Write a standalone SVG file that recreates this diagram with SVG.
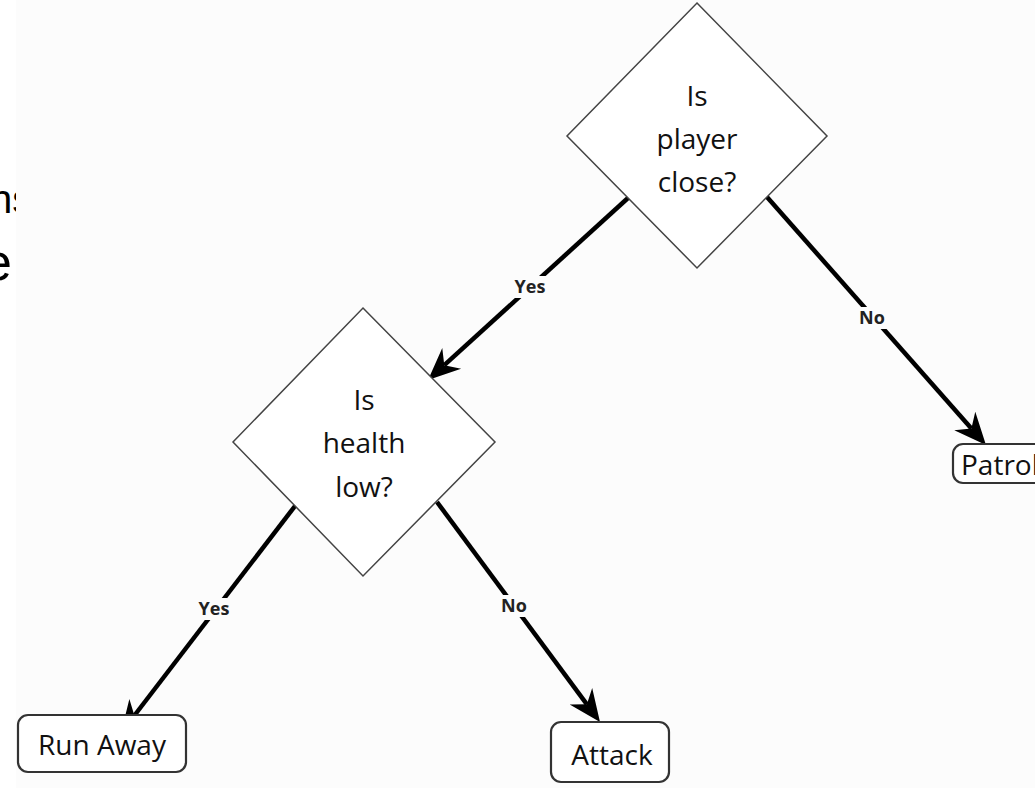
<svg xmlns="http://www.w3.org/2000/svg" width="1035" height="788" viewBox="0 0 1035 788">
<defs>
<style>
.t{font-family:"Open Sans","Noto Sans","Liberation Sans",sans-serif;font-size:28px;fill:#111;text-anchor:middle}
.lbl{font-family:"Open Sans","Noto Sans","Liberation Sans",sans-serif;font-size:18px;font-weight:bold;fill:#222;text-anchor:middle}
.dia{fill:#fff;stroke:#444;stroke-width:1.5}
.box{fill:#fff;stroke:#333;stroke-width:2.2}
.edge{stroke:#000;stroke-width:4.5;fill:none;marker-end:url(#ah)}
.lb{fill:#fcfcfc}
.side{font-family:"Liberation Sans",sans-serif;fill:#000}
</style>
<marker id="ah" markerUnits="userSpaceOnUse" orient="auto" refX="0" refY="0" markerWidth="40" markerHeight="30" viewBox="-10 -15 35 30" overflow="visible">
<path d="M0,0 L-10,-14 L22,0 L-10,14 Z" fill="#000"/>
</marker>
</defs>
<rect width="1035" height="788" fill="#fff"/>
<text class="side" x="-10" y="213" font-size="40">ns</text>
<text class="side" x="-17" y="280" font-size="52">e</text>
<rect x="16" y="0" width="1019" height="788" fill="#fcfcfc"/>

<g id="connectors">
<line class="edge" x1="628" y1="198" x2="444.3" y2="365.2"/>
<line class="edge" x1="767" y1="197" x2="971.4" y2="428.5"/>
<line class="edge" x1="295" y1="506" x2="134.4" y2="715.5"/>
<line class="edge" x1="437" y1="502" x2="586.9" y2="704.3"/>
<rect class="lb" x="510" y="276" width="40" height="22"/>
<text class="lbl" x="530" y="293">Yes</text>
<rect class="lb" x="856" y="307" width="32" height="22"/>
<text class="lbl" x="872" y="324">No</text>
<rect class="lb" x="194" y="598" width="40" height="22"/>
<text class="lbl" x="214" y="615">Yes</text>
<rect class="lb" x="498" y="595" width="32" height="22"/>
<text class="lbl" x="514" y="612">No</text>
</g>

<g id="node-player-close">
<polygon class="dia" points="697,3 827,136 697,268 567,136"/>
<text class="t" x="697" y="106">Is</text>
<text class="t" x="697" y="149">player</text>
<text class="t" x="697" y="192">close?</text>
</g>

<g id="node-health-low">
<polygon class="dia" points="363,308 495,442 363,576 233,442"/>
<text class="t" x="364" y="410">Is</text>
<text class="t" x="364" y="453">health</text>
<text class="t" x="364" y="497">low?</text>
</g>

<g id="node-patrol">
<rect class="box" x="953" y="444" width="110" height="39" rx="10"/>
<text class="t" x="961" y="475" style="text-anchor:start">Patrol</text>
</g>

<g id="node-run-away">
<rect class="box" x="18" y="715" width="168" height="57" rx="10"/>
<text class="t" x="102" y="755">Run Away</text>
</g>

<g id="node-attack">
<rect class="box" x="551" y="722" width="118" height="60" rx="10"/>
<text class="t" x="612" y="765">Attack</text>
</g>
</svg>
